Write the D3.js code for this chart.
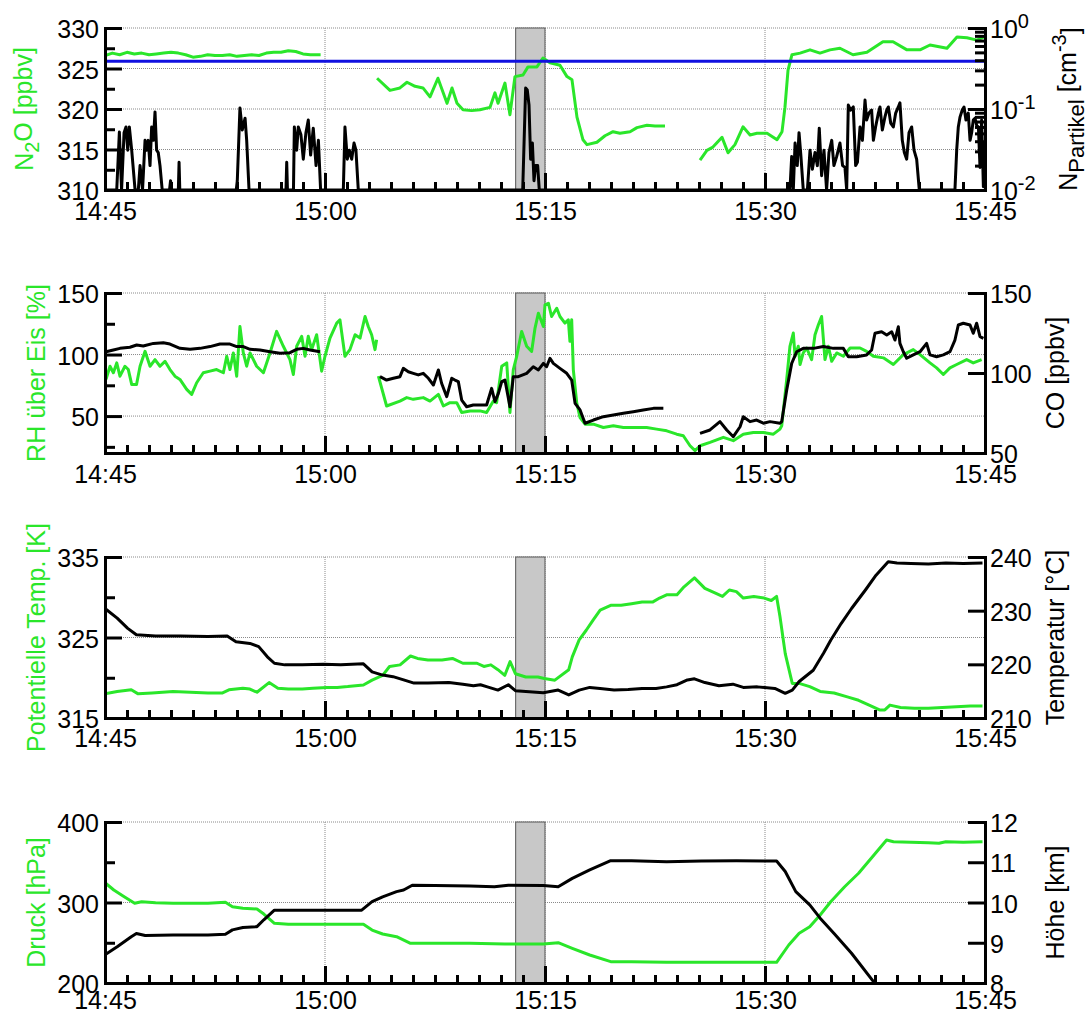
<!DOCTYPE html>
<html>
<head>
<meta charset="utf-8">
<script src="https://cdn.jsdelivr.net/npm/d3@7"></script>
<style>
  body { margin: 0; background: #fff; }
  svg text { font-family: "Liberation Sans", Arial, sans-serif; }
  .axis .domain { stroke: #000; stroke-width: 3; stroke-linecap: square; }
  .axis .tick line { stroke: #000; stroke-width: 3; }
  .axis text { font-size: 25px; fill: #000; font-family: "Liberation Sans", Arial, sans-serif; }
</style>
</head>
<body>
<svg id="chart" width="1089" height="1015"></svg>
<script>
// all series: [minutes after 14:45, value], null = gap in the record

// panel 1: N2O [ppbv] (left) and particle number [cm-3] (right, log)
const n2o = [
  [0,326.6],[0.5,326.9],[1,326.7],[1.5,327.0],[2,326.8],[2.5,326.9],[3,326.7],[3.5,326.8],[4,326.9],[4.5,327.0],
  [5,326.9],[5.5,326.7],[6,326.4],[6.5,326.5],[7,326.7],[7.5,326.6],[8,326.6],[8.5,326.7],[9,326.5],[9.5,326.6],
  [10,326.7],[10.5,326.6],[11,326.9],[11.5,327.0],[12,327.0],[12.5,327.2],[13,327.1],[13.5,326.8],[14,326.7],[14.7,326.7],
  [16,null],
  [18.55,323.8],[19.43,322.3],[20.11,322.6],[20.59,323.3],[21.14,322.8],[21.68,322.6],[22.16,321.5],[22.70,323.8],
  [23.32,320.7],[23.66,322.6],[24.0,320.7],[24.41,319.9],[25.0,319.8],[25.57,319.9],[26.25,320.2],[26.59,322.0],
  [26.8,320.7],[27.27,323.2],[27.61,319.3],[27.95,324.0],[28.5,324.2],[28.84,325.2],[29.45,325.2],[29.86,326.3],
  [30.34,325.7],[31.02,325.4],[31.5,324.0],[31.84,323.6],[32.18,319.0],[32.59,316.2],[32.86,315.6],[33.54,315.9],
  [34.09,316.7],[34.64,317.2],[35.11,317.0],[35.8,317.2],[36.27,317.7],[36.95,318.0],[37.5,317.9],[38.18,317.9],
  [39,null],
  [40.57,313.7],[41.04,314.9],[41.45,315.3],[42.07,316.5],[42.48,314.6],[42.95,315.6],[43.5,317.8],[43.98,316.8],
  [44.45,317.0],[45.14,317.0],[45.82,316.2],[46.16,317.2],[46.36,320.2],[46.57,324.8],[46.84,326.7],[47.39,326.9],
  [48.07,327.3],[48.75,326.9],[49.43,327.3],[50.11,327.5],[51.0,326.7],[51.95,327.0],[53.04,328.3],[53.73,328.3],
  [54.68,327.3],[55.57,327.3],[56.25,327.9],[57.41,327.5],[58.09,328.9],[58.77,328.8],[59.45,328.5],[59.93,328.9]
];
const n2oRef = [[0,325.9],[60,325.9]];
const particles = [
  [0,0.005],[0.80,0.005],[0.98,0.052],[1.13,0.005],[1.30,0.051],[1.43,0.060],[1.55,0.031],[1.66,0.060],[1.82,0.031],
  [2.05,0.005],[2.27,0.005],[2.39,0.020],[2.56,0.005],[2.73,0.041],[2.84,0.031],[2.95,0.041],[3.07,0.020],[3.18,0.060],
  [3.30,0.041],[3.41,0.092],[3.52,0.031],[3.63,0.029],[3.75,0.020],[3.90,0.005],
  [4.40,0.005],[4.47,0.013],[4.54,0.005],[5.00,0.005],[5.05,0.022],[5.10,0.005],
  [8.95,0.005],[9.02,0.013],[9.20,0.103],[9.36,0.055],[9.55,0.077],[9.66,0.041],[9.82,0.005],
  [12.34,0.005],[12.39,0.022],[12.44,0.005],[12.85,0.005],[12.91,0.060],[13.07,0.031],[13.18,0.060],[13.36,0.048],
  [13.52,0.024],[13.70,0.051],[13.86,0.073],[14.02,0.027],[14.20,0.058],[14.39,0.020],[14.55,0.041],[14.70,0.005],
  [16.25,0.005],[16.36,0.060],[16.52,0.024],[16.66,0.031],[16.82,0.024],[16.98,0.038],[17.11,0.031],[17.27,0.005],
  [28.48,0.005],[28.68,0.182],[28.79,0.172],[28.91,0.112],[29.02,0.024],[29.14,0.038],[29.25,0.013],[29.36,0.020],
  [29.50,0.020],[29.61,0.005],
  [46.70,0.005],[46.82,0.026],[46.93,0.005],[47.05,0.038],[47.20,0.020],[47.32,0.051],[47.45,0.026],[47.61,0.005],
  [47.89,0.005],[48.07,0.031],[48.23,0.018],[48.41,0.029],[48.57,0.020],[48.70,0.058],[48.86,0.015],[49.02,0.031],
  [49.20,0.005],[49.36,0.029],[49.55,0.041],[49.70,0.020],[49.89,0.026],[50.11,0.038],[50.29,0.020],[50.45,0.019],
  [50.57,0.005],[50.68,0.112],[50.84,0.097],[51.02,0.106],[51.18,0.020],[51.30,0.022],[51.48,0.060],[51.64,0.041],
  [51.82,0.129],[51.93,0.073],[52.09,0.089],[52.27,0.097],[52.39,0.041],[52.54,0.060],[52.73,0.089],[52.84,0.106],
  [53.00,0.055],[53.18,0.080],[53.30,0.097],[53.41,0.106],[53.57,0.067],[53.75,0.060],[53.91,0.089],[54.09,0.106],
  [54.20,0.119],[54.36,0.041],[54.50,0.029],[54.66,0.024],[54.82,0.051],[55.00,0.060],[55.16,0.031],[55.34,0.024],
  [55.52,0.005],
  [57.95,0.005],[58.07,0.031],[58.18,0.060],[58.30,0.080],[58.45,0.097],[58.57,0.106],[58.70,0.073],[58.86,0.089],
  [58.98,0.041],[59.09,0.051],[59.20,0.073],[59.32,0.077],[59.43,0.063],[59.55,0.060],[59.66,0.019],[59.77,0.073],
  [59.89,0.011],[60,0.040]
];

// panel 2: RH over ice [%] (left) and CO [ppbv] (right)
const rhIce = [
  [0.07,79.8],[0.34,90.5],[0.57,85.2],[0.80,93.2],[1.02,82.4],[1.36,90.5],[1.59,87.8],[1.82,75.7],[2.15,75.7],[2.39,90.5],
  [2.73,102.6],[3.07,90.5],[3.41,95.9],[3.75,90.5],[4.09,94.5],[4.43,87.8],[4.77,82.4],[5.11,79.8],[5.57,71.7],[5.91,67.6],
  [6.25,77.1],[6.70,85.2],[7.16,86.5],[7.61,87.8],[8.07,85.2],[8.30,98.6],[8.52,87.8],[8.75,101.3],[8.98,82.4],[9.20,122.8],
  [9.43,101.3],[9.66,90.5],[9.89,101.3],[10.34,90.5],[10.80,85.2],[11.25,101.3],[11.70,118.8],[12.16,106.7],[12.61,95.9],
  [12.84,83.8],[13.07,106.7],[13.41,114.8],[13.64,98.6],[13.86,114.8],[14.09,104.0],[14.43,116.1],[14.77,86.5],[15.00,98.6],
  [15.34,113.4],[15.80,125.5],[16.02,128.2],[16.36,98.6],[16.70,104.0],[17.05,116.1],[17.39,113.4],[17.73,130.9],
  [17.95,122.8],[18.18,116.1],[18.41,104.0],[18.52,112.1],
  [18.58,null],
  [18.64,82.4],[19.20,58.2],[20.11,62.2],[20.57,65.0],[21.02,63.6],[21.70,65.0],[22.16,62.2],[22.73,67.6],[23.07,58.2],
  [23.52,60.9],[23.98,60.9],[24.32,52.9],[24.89,54.2],[25.57,54.2],[26.02,52.9],[26.48,62.2],[26.70,60.9],[27.05,90.5],
  [27.39,93.2],[27.61,52.9],[27.84,87.8],[28.07,98.6],[28.41,118.8],[28.75,106.7],[29.09,102.6],[29.32,121.5],[29.55,133.6],
  [29.89,122.8],[30.00,140.3],[30.23,141.7],[30.45,130.9],[30.80,137.6],[31.02,130.9],[31.36,125.5],[31.59,128.2],
  [31.70,110.7],[31.82,128.2],[31.93,87.8],[32.16,60.9],[32.39,48.8],[32.73,43.4],[33.30,43.4],[33.98,40.7],[34.66,42.1],
  [35.34,40.7],[36.02,40.7],[36.93,40.7],[37.61,39.4],[38.30,38.0],[38.98,35.3],[39.43,34.0],[39.89,25.9],[40.23,21.9],
  [40.57,25.9],[41.25,28.6],[42.16,32.7],[42.84,30.0],[43.52,35.3],[44.20,36.7],[44.89,36.7],[45.57,35.3],[46.02,39.4],
  [46.14,42.1],[46.48,79.8],[46.70,106.7],[46.93,117.5],[47.05,98.6],[47.27,106.7],[47.39,91.9],[47.61,101.3],[47.84,105.3],
  [48.18,95.9],[48.41,116.1],[48.64,124.2],[48.86,130.9],[49.09,95.9],[49.32,106.7],[49.55,94.5],[49.89,101.3],[50.34,98.6],
  [50.80,105.3],[51.48,105.3],[51.93,102.6],[52.39,98.6],[53.07,97.3],[53.75,91.9],[54.43,99.9],[55.11,104.0],[55.57,99.9],
  [56.25,93.2],[56.70,89.2],[57.16,83.8],[57.61,89.2],[58.07,91.9],[58.75,95.9],[59.20,93.2],[59.77,95.9]
];
const co = [
  [0.07,113.3],[0.57,114.4],[1.02,115.4],[1.70,116.1],[2.16,117.5],[2.61,116.9],[3.30,118.5],[3.98,118.9],[4.43,118.1],
  [5.11,115.4],[5.80,114.8],[6.48,115.4],[7.16,116.5],[7.84,118.1],[8.52,118.1],[8.98,116.5],[9.43,116.5],[9.89,114.8],
  [10.57,114.4],[11.25,113.3],[11.93,112.3],[12.61,112.7],[13.07,114.8],[13.52,115.4],[13.98,114.4],[14.66,113.3],
  [16,null],
  [18.75,97.7],[19.20,95.6],[19.66,96.7],[20.11,97.7],[20.34,102.9],[20.68,100.8],[21.02,99.8],[21.36,98.8],[21.70,99.8],
  [22.05,96.7],[22.39,92.5],[22.73,101.9],[22.95,93.6],[23.30,85.2],[23.64,96.7],[23.86,95.6],[24.09,94.6],[24.32,83.1],
  [24.66,78.9],[25.11,80.0],[25.57,80.0],[26.02,80.0],[26.36,90.4],[26.59,82.1],[26.82,87.3],[27.05,94.6],[27.27,95.6],
  [27.61,78.9],[27.84,97.7],[28.18,97.7],[28.75,99.8],[29.20,103.9],[29.55,101.9],[29.89,106.0],[30.11,103.9],[30.34,109.2],
  [30.57,106.0],[31.02,102.9],[31.48,99.8],[31.82,95.6],[32.05,81.0],[32.39,76.9],[32.73,68.6],[33.30,70.6],[33.98,72.7],
  [34.66,73.8],[35.34,74.8],[36.02,75.8],[36.70,76.9],[37.39,77.9],[38.07,77.9],
  [39,null],
  [40.57,62.3],[41.25,64.4],[41.93,69.6],[42.39,64.4],[42.84,60.2],[43.30,66.4],[43.52,72.7],[43.98,69.6],[44.43,70.6],
  [44.89,68.6],[45.34,69.6],[46.02,68.6],[46.14,69.6],[46.48,89.4],[46.82,106.0],[47.16,113.3],[47.61,115.4],[48.30,115.4],
  [48.98,116.5],[49.66,115.4],[50.34,115.4],[50.68,110.2],[51.25,110.2],[51.93,111.3],[52.27,114.4],[52.50,124.8],
  [52.95,125.8],[53.30,123.8],[53.64,125.8],[53.86,120.6],[54.09,128.9],[54.20,118.5],[54.43,113.3],[54.66,109.2],
  [55.11,111.3],[55.57,113.3],[56.02,118.5],[56.25,111.3],[56.70,110.2],[57.16,111.3],[57.61,113.3],[57.95,120.6],
  [58.18,130.0],[58.52,131.1],[58.98,130.0],[59.20,124.8],[59.43,131.1],[59.66,122.7],[59.89,121.7]
];

// panel 3: potential temperature [K] (left) and temperature (right)
const theta = [
  [0,318.0],[0.83,318.3],[1.79,318.5],[2.26,318.0],[3.21,318.1],[4.64,318.3],[5.83,318.2],[7.02,318.1],[7.98,318.1],
  [8.45,318.5],[9.40,318.7],[9.88,318.6],[10.36,318.2],[11.19,319.4],[11.79,318.7],[12.50,318.6],[13.45,318.6],[14.17,318.7],
  [15.12,318.8],[15.83,318.8],[16.55,318.9],[17.62,319.1],[18.21,319.7],[18.93,320.3],[19.40,321.4],[20.12,321.6],
  [20.83,322.7],[21.31,322.4],[22.02,322.2],[22.98,322.2],[23.69,322.4],[24.40,321.8],[25.36,321.8],[25.83,321.4],
  [26.31,321.6],[26.79,321.0],[27.26,320.3],[27.62,322.0],[27.98,320.5],[28.69,320.1],[29.52,320.1],[29.95,319.9],
  [30.67,319.7],[31.62,321.0],[31.86,322.6],[32.33,324.7],[32.81,325.9],[33.29,327.2],[33.76,328.4],[34.48,329.0],
  [35.19,329.0],[35.90,329.2],[36.62,329.4],[37.33,329.4],[37.81,329.9],[38.29,330.3],[39.00,330.3],[39.48,331.3],
  [40.19,332.4],[40.90,331.1],[41.62,330.5],[42.10,330.1],[42.57,330.9],[43.05,330.7],[43.52,329.9],[44.24,330.1],
  [44.95,329.9],[45.43,329.6],[45.79,330.1],[46.02,327.6],[46.38,323.0],[46.86,319.3],[47.33,319.3],[48.05,318.9],
  [48.76,318.3],[49.71,318.1],[50.67,317.6],[51.38,317.2],[52.10,316.6],[52.81,316.0],[53.17,316.0],[53.52,316.6],
  [54.24,316.3],[55.19,316.2],[56.14,316.2],[57.10,316.3],[58.05,316.4],[59.00,316.5],[59.83,316.5]
];
const temperature = [
  [0,230.4],[0.83,228.6],[1.55,226.7],[2.14,225.5],[3.45,225.3],[5.12,225.3],[7.02,225.2],[8.33,225.3],[8.93,224.2],
  [9.88,223.9],[10.48,223.3],[11.07,221.4],[11.55,220.2],[12.26,219.9],[13.45,219.9],[14.88,220.0],[16.07,219.9],
  [17.62,220.1],[18.21,218.6],[18.93,218.0],[19.64,217.7],[20.36,217.1],[21.07,216.5],[22.02,216.5],[23.45,216.6],
  [24.40,216.3],[25.12,216.0],[25.60,216.2],[26.07,215.8],[26.79,215.2],[27.50,216.2],[27.98,215.1],[28.93,214.9],
  [29.88,214.7],[30.90,215.2],[31.62,214.3],[32.33,215.2],[33.05,215.7],[33.76,215.5],[34.71,215.2],[35.67,215.3],
  [36.62,215.5],[37.57,215.5],[38.29,215.8],[39.00,216.2],[39.71,217.1],[40.19,217.3],[40.90,216.6],[41.86,216.0],
  [42.81,216.3],[43.52,215.7],[44.48,215.8],[45.67,215.5],[46.38,214.6],[46.86,215.2],[47.33,216.8],[48.29,218.9],
  [49.00,222.1],[49.48,224.5],[50.19,227.6],[50.90,230.4],[51.86,233.9],[52.57,236.6],[53.40,239.1],[54.00,238.9],
  [54.95,238.8],[56.14,238.7],[57.33,238.9],[58.52,238.8],[59.83,238.9]
];

// panel 4: pressure [hPa] (left) and altitude [km] (right)
const pressure = [
  [0,324.6],[0.60,315.5],[1.31,307.2],[2.02,299.0],[2.50,301.0],[3.45,299.8],[4.64,299.0],[5.83,299.0],[7.02,299.0],
  [8.21,300.2],[8.69,294.8],[9.40,292.8],[10.36,291.9],[10.83,285.7],[11.55,274.2],[12.50,272.9],[14.17,272.9],
  [16.55,272.9],[17.62,272.9],[18.21,265.8],[18.93,260.9],[19.88,257.5],[20.83,249.3],[22.50,249.3],[24.88,249.3],
  [27.26,248.4],[29.88,248.4],[30.90,250.1],[31.86,243.1],[33.05,234.8],[34.48,226.5],[35.90,226.5],[38.29,225.7],
  [40.67,225.7],[43.05,225.7],[45.79,225.7],[46.62,247.2],[47.33,261.7],[48.05,269.9],[48.76,284.5],[49.48,301.0],
  [50.43,319.6],[51.38,336.3],[52.33,356.9],[53.29,377.6],[53.76,375.5],[54.95,374.7],[56.14,374.3],[56.86,373.5],
  [57.33,375.5],[58.52,374.7],[59.83,375.5]
];
const altitude = [
  [0,8.70],[0.83,8.90],[1.79,9.15],[2.14,9.23],[2.74,9.18],[4.64,9.19],[7.02,9.19],[8.21,9.21],[8.69,9.32],[9.40,9.38],
  [10.36,9.40],[10.83,9.57],[11.55,9.81],[12.98,9.81],[15.36,9.81],[17.50,9.81],[18.21,10.02],[18.93,10.14],[19.88,10.27],
  [20.36,10.31],[20.95,10.43],[22.50,10.42],[24.88,10.41],[26.55,10.39],[27.50,10.43],[29.88,10.42],[30.90,10.39],
  [31.86,10.60],[33.05,10.81],[34.48,11.04],[35.90,11.04],[38.29,11.01],[40.67,11.03],[43.05,11.04],[45.79,11.03],
  [46.38,10.77],[47.10,10.27],[48.05,9.94],[48.76,9.61],[49.71,9.23],[50.90,8.74],[52.45,8.01],[53.50,7.50]
];

// shaded interval (15:13 - 15:15) and time ticks
const bandMinutes = [28.0, 30.0];
const labelMinutes = [0, 15, 30, 45, 60];
const gridMinutes = [15, 30, 45];
const minorMinutes = d3.range(1.5, 60, 1.5).filter(m => m % 15 !== 0);

const green = "#2ae62a";
const base = new Date(2009, 0, 1, 14, 45);
const toDate = m => new Date(base.getTime() + m * 60000);

const x = d3.scaleTime().domain([toDate(0), toDate(60)]).range([105, 985]);
const svg = d3.select("#chart");

function sup(t, s) { t.append("tspan").attr("dy", "-0.5em").attr("font-size", 20).text(s); }

const panels = [
  {
    top: 28, bottom: 190, xPad: 12,
    left: [310, 330], leftMajor: [310, 315, 320, 325, 330], leftMinor: [312.5, 317.5, 322.5, 327.5],
    right: [0.01, 1], log: true, rightMajor: [0.01, 0.1, 1], rightMinor: [0.02,0.03,0.04,0.05,0.06,0.07,0.08,0.09,0.2,0.3,0.4,0.5,0.6,0.7,0.8,0.9],
    grid: [315, 320, 325, 330],
    series: [
      { data: n2o, axis: "L", color: green },
      { data: n2oRef, axis: "L", color: "#1010e0" },
      { data: particles, axis: "R", color: "#000" }
    ],
    leftX: 33, rightX: 1077,
    leftTitle: t => { t.append("tspan").text("N"); t.append("tspan").attr("dy", "0.3em").attr("font-size", 20).text("2"); t.append("tspan").attr("dy", "-0.3em").text("O [ppbv]"); },
    rightTitle: t => { t.append("tspan").text("N"); t.append("tspan").attr("dy", "0.3em").attr("font-size", 22).text("Partikel"); t.append("tspan").attr("dy", "-0.3em").text(" [cm"); sup(t, "-3"); t.append("tspan").attr("dy", "0.5em").text("]"); }
  },
  {
    top: 293, bottom: 453, xPad: 12,
    left: [20, 150], leftMajor: [50, 100, 150], leftMinor: [25, 75, 125],
    right: [50, 150], rightMajor: [50, 100, 150], rightMinor: [],
    grid: [50, 100, 150],
    series: [
      { data: rhIce, axis: "L", color: green },
      { data: co, axis: "R", color: "#000" }
    ],
    leftX: 45, rightX: 1064,
    leftTitle: t => t.text("RH über Eis [%]"),
    rightTitle: t => t.text("CO [ppbv]")
  },
  {
    top: 557, bottom: 718, xPad: 11,
    left: [315, 335], leftMajor: [315, 325, 335], leftMinor: [320, 330],
    right: [210, 240], rightMajor: [210, 220, 230, 240], rightMinor: [],
    grid: [325, 335],
    series: [
      { data: theta, axis: "L", color: green },
      { data: temperature, axis: "R", color: "#000" }
    ],
    leftX: 45, rightX: 1064,
    leftTitle: t => t.text("Potentielle Temp. [K]"),
    rightTitle: t => t.text("Temperatur [°C]")
  },
  {
    top: 822, bottom: 983, xPad: 8,
    left: [200, 400], leftMajor: [200, 300, 400], leftMinor: [250, 350],
    right: [8, 12], rightMajor: [8, 9, 10, 11, 12], rightMinor: [],
    grid: [300, 400],
    series: [
      { data: pressure, axis: "L", color: green },
      { data: altitude, axis: "R", color: "#000" }
    ],
    leftX: 45, rightX: 1064,
    leftTitle: t => t.text("Druck [hPa]"),
    rightTitle: t => t.text("Höhe [km]")
  }
];

panels.forEach((p, i) => {
  const yL = d3.scaleLinear().domain(p.left).range([p.bottom, p.top]);
  const yR = (p.log ? d3.scaleLog() : d3.scaleLinear()).domain(p.right).range([p.bottom, p.top]).clamp(!!p.log);
  const g = svg.append("g");

  svg.append("clipPath").attr("id", "clip" + i)
    .append("rect").attr("x", 105).attr("y", p.top - 2).attr("width", 880).attr("height", p.bottom - p.top + 2);

  // dotted grid
  g.selectAll(".hgrid").data(p.grid).join("line")
    .attr("x1", 105).attr("x2", 985).attr("y1", d => yL(d)).attr("y2", d => yL(d))
    .attr("stroke", "#8a8a8a").attr("stroke-width", 1).attr("stroke-dasharray", "1,1");
  g.selectAll(".vgrid").data(gridMinutes).join("line")
    .attr("x1", d => x(toDate(d))).attr("x2", d => x(toDate(d))).attr("y1", p.top).attr("y2", p.bottom)
    .attr("stroke", "#8a8a8a").attr("stroke-width", 1).attr("stroke-dasharray", "1,1");

  // shaded interval
  g.append("rect")
    .attr("x", x(toDate(bandMinutes[0]))).attr("y", p.top)
    .attr("width", x(toDate(bandMinutes[1])) - x(toDate(bandMinutes[0]))).attr("height", p.bottom - p.top)
    .attr("fill", "#c8c8c8").attr("stroke", "#555").attr("stroke-width", 1);

  // data lines
  const lines = g.append("g").attr("clip-path", `url(#clip${i})`);
  p.series.forEach(s => {
    const sc = s.axis === "R" ? yR : yL;
    const line = d3.line()
      .defined(d => d[1] !== null)
      .x(d => x(toDate(d[0])))
      .y(d => sc(d[1]));
    lines.append("path").attr("d", line(s.data))
      .attr("fill", "none").attr("stroke", s.color).attr("stroke-width", 3)
      .attr("stroke-linejoin", "round");
  });

  // axes
  const ax = g.append("g").attr("class", "axis");
  ax.append("g").attr("transform", `translate(0,${p.bottom})`)
    .call(d3.axisBottom(x).tickValues(minorMinutes.map(toDate)).tickSize(-8).tickSizeOuter(0).tickFormat(""));
  ax.append("g").attr("transform", `translate(0,${p.bottom})`)
    .call(d3.axisBottom(x).tickValues(labelMinutes.map(toDate)).tickSize(-17).tickSizeOuter(0).tickPadding(p.xPad)
      .tickFormat(d3.timeFormat("%H:%M")));

  ax.append("g").attr("transform", "translate(105,0)")
    .call(d3.axisLeft(yL).tickValues(p.leftMinor).tickSize(-10).tickSizeOuter(0).tickFormat(""));
  ax.append("g").attr("transform", "translate(105,0)")
    .call(d3.axisLeft(yL).tickValues(p.leftMajor).tickSize(-17).tickSizeOuter(0).tickPadding(6).tickFormat(d3.format("d")))
    .selectAll("text").attr("dy", "0.38em");

  ax.append("g").attr("transform", "translate(985,0)")
    .call(d3.axisRight(yR).tickValues(p.rightMinor).tickSize(-10).tickSizeOuter(0).tickFormat(""));
  const rAx = ax.append("g").attr("transform", "translate(985,0)")
    .call(d3.axisRight(yR).tickValues(p.rightMajor).tickSize(-17).tickSizeOuter(0).tickPadding(5)
      .tickFormat(p.log ? () => "" : d3.format("d")));
  rAx.selectAll("text").attr("dy", "0.38em");
  if (p.log) {
    rAx.selectAll(".tick text").each(function (d) {
      const t = d3.select(this);
      t.append("tspan").text("10");
      sup(t, String(Math.round(Math.log10(d))));
    });
  }

  // axis titles
  const cy = (p.top + p.bottom) / 2;
  const lt = svg.append("text")
    .attr("transform", `translate(${p.leftX},${cy}) rotate(-90)`)
    .attr("text-anchor", "middle").attr("font-size", 25).attr("fill", green);
  p.leftTitle(lt);
  const rt = svg.append("text")
    .attr("transform", `translate(${p.rightX},${cy}) rotate(-90)`)
    .attr("text-anchor", "middle").attr("font-size", 25).attr("fill", "#000");
  p.rightTitle(rt);
});
</script>
</body>
</html>
